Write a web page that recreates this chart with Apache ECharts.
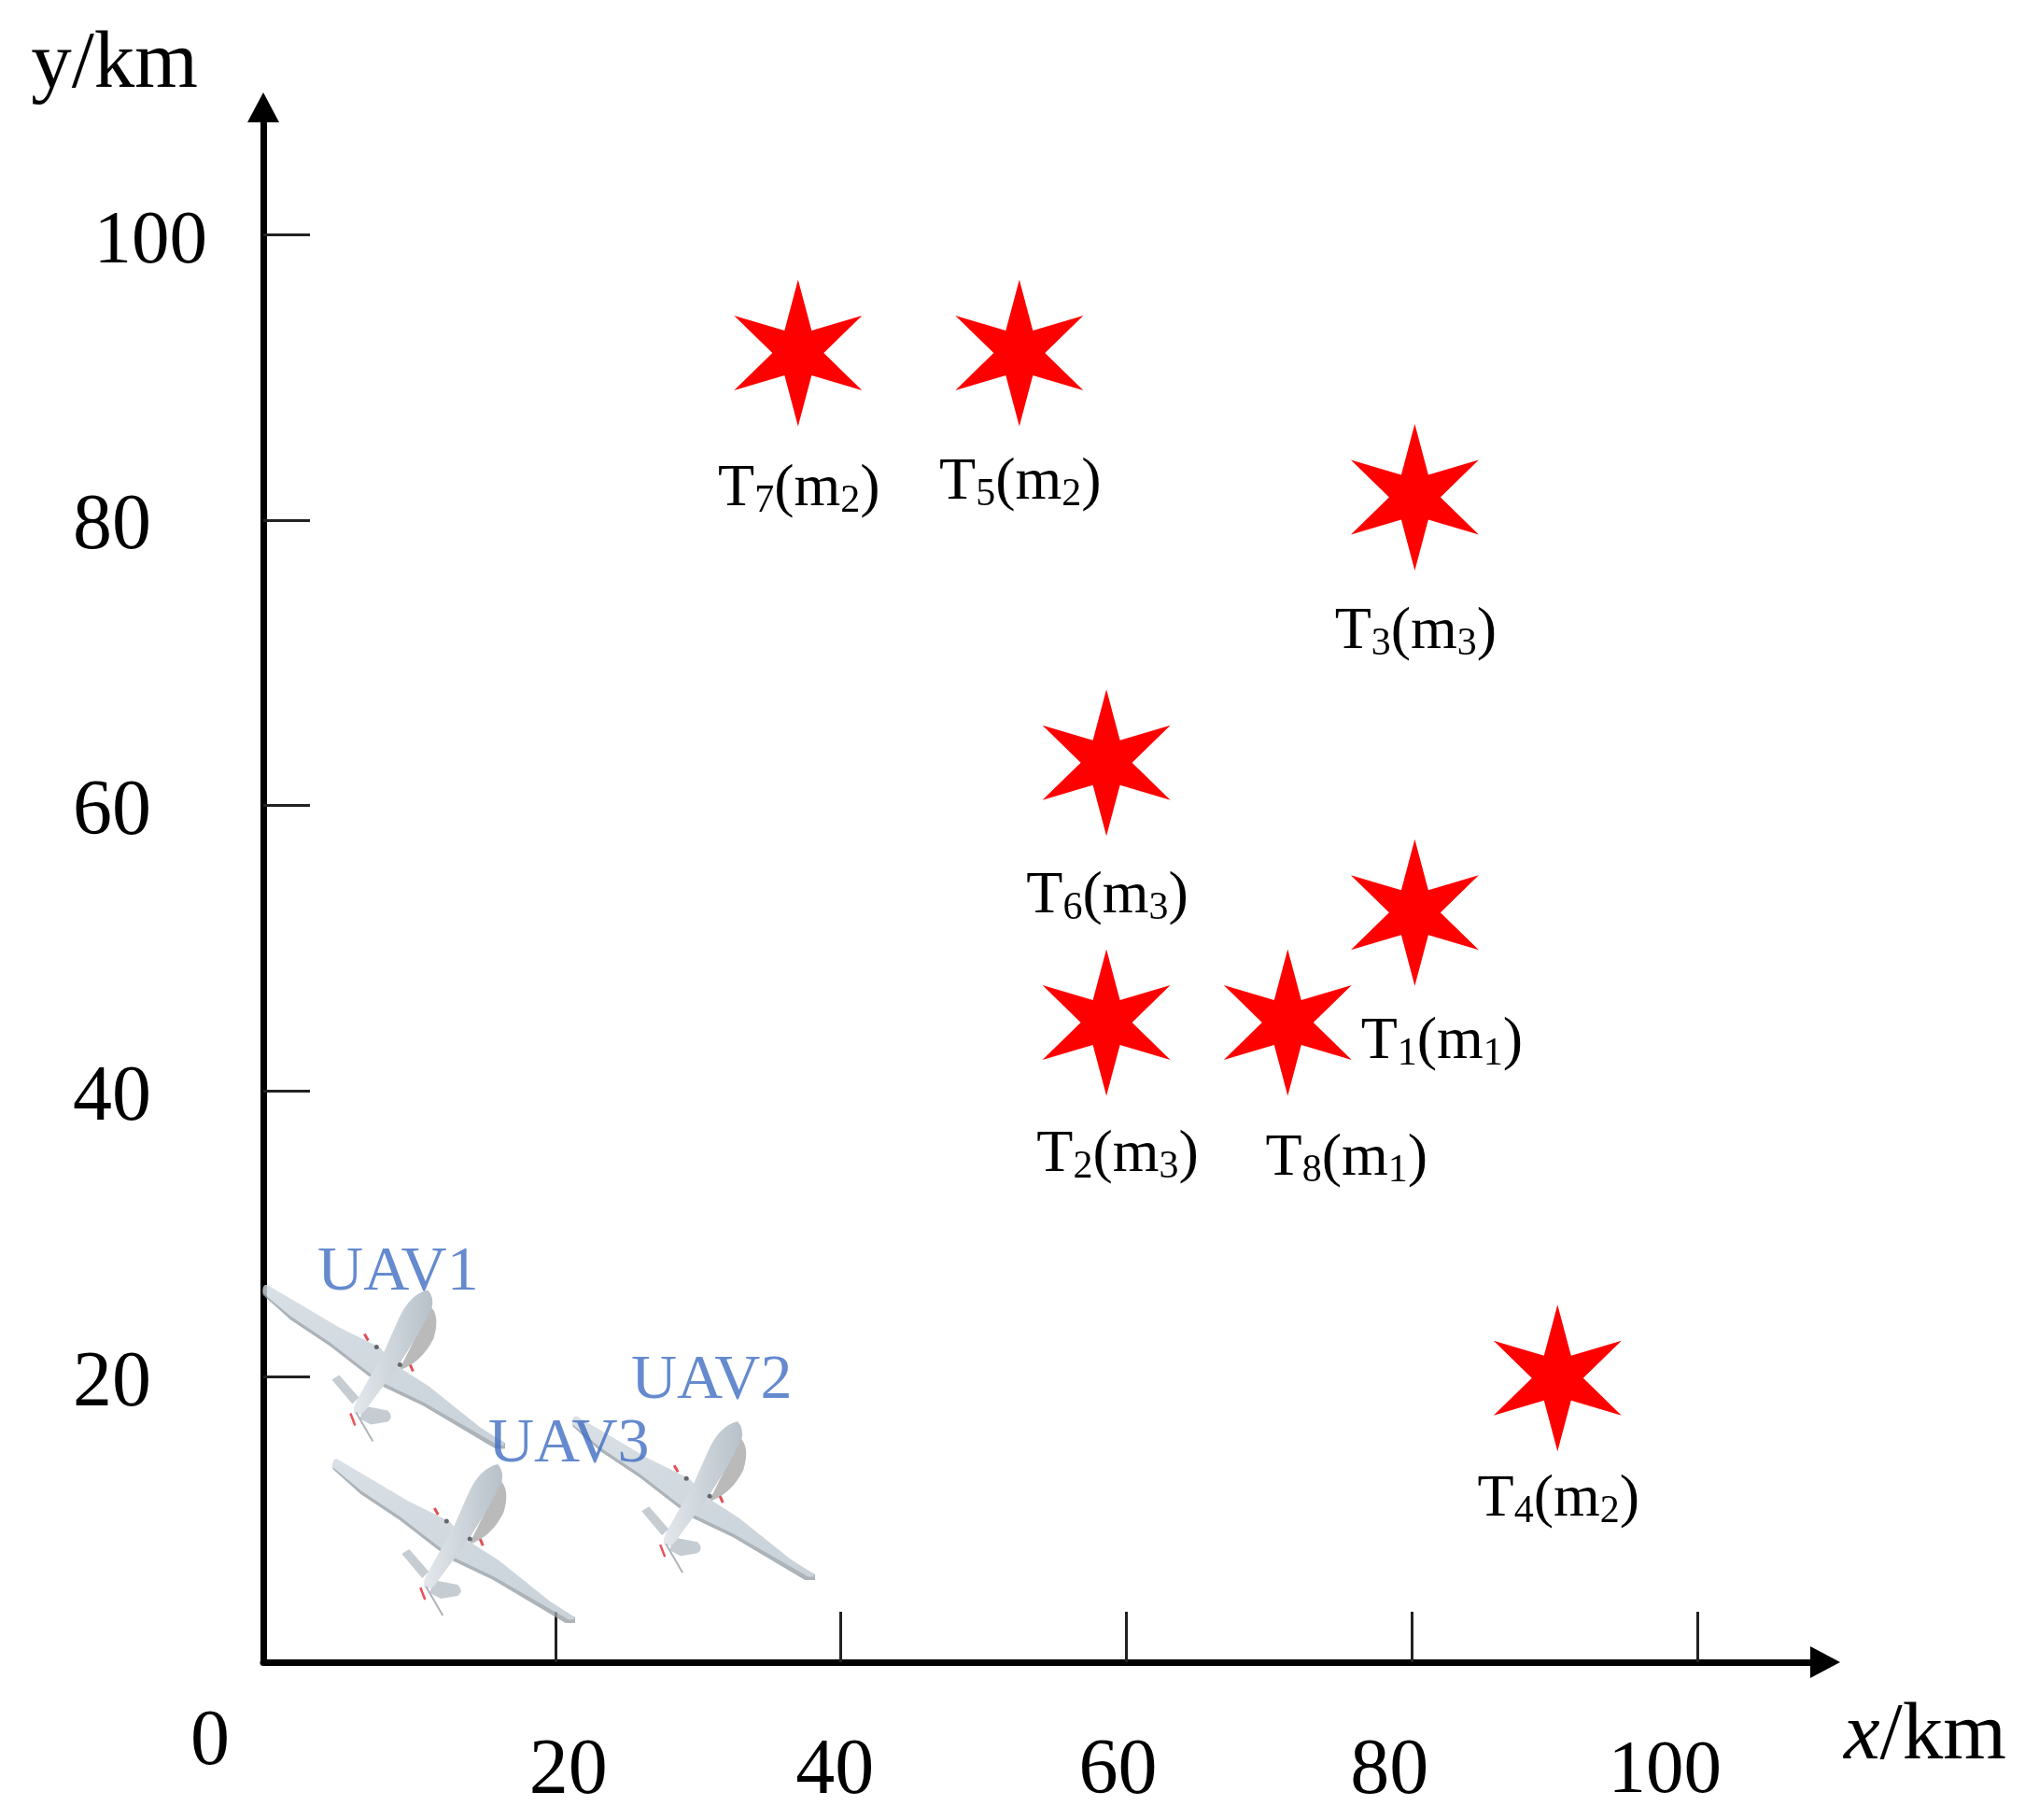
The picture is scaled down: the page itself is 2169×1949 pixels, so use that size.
<!DOCTYPE html>
<html>
<head>
<meta charset="utf-8">
<style>
  html, body { margin: 0; padding: 0; background: #fff; }
  #chart_container { width: 2169px; height: 1949px; }
</style>
<script src="https://cdn.jsdelivr.net/npm/echarts@6/dist/echarts.min.js"></script>
</head>
<body>
<div id="chart_container"></div>
<script>
// tick labels
const xLabelValues = [0, 20, 40, 60, 80, 100]
const xTickValues = [20, 40, 60, 80, 100]
const yTickValues = [20, 40, 60, 80, 100]

// targets (km)
const targetNames = ["T7", "T5", "T3", "T6", "T1", "T2", "T8", "T4"]
const targetSub = ["7", "5", "3", "6", "1", "2", "8", "4"]
const targetMode = ["2", "2", "3", "3", "1", "3", "1", "2"]
const targetX = [37.0, 52.5, 80.2, 58.6, 80.2, 58.6, 71.3, 90.2]
const targetY = [91.7, 91.7, 81.6, 63.0, 52.5, 44.8, 44.8, 19.9]

// uavs
const uavNames = ["UAV1", "UAV2", "UAV3"]
const uavX = [8.0, 29.7, 12.9]
const uavY = [20.7, 11.5, 8.5]

const SERIF = '"Liberation Serif", "Times New Roman", serif'

// where each label sits relative to its mark, in px
const targetLabelOffset = [[1, 146], [1, 139], [1, 145], [1, 143], [29, 139], [12, 142], [63, 146], [1, 130]]
const uavLabelOffset = [[15, -100], [19, -125], [123, -103]]

// six pointed star
const starPath = "path://M68.5 0L83 54.5L137 38.5L96 78.5L137 118.5L83 102.5L68.5 157L54 102.5L0 118.5L41 78.5L0 38.5L54 54.5Z"

// top view of the plane, drawn once and used as the scatter symbol
const planeSvg = `<svg xmlns="http://www.w3.org/2000/svg" width="260" height="176" viewBox="0 0 260 176">
<defs>
<linearGradient id="w" x1="0" y1="0" x2="1" y2="1"><stop offset="0" stop-color="#d0d9e0"/><stop offset="1" stop-color="#bcc7d0"/></linearGradient>
<linearGradient id="f" x1="0" y1="0" x2="1" y2="0"><stop offset="0" stop-color="#dde3e8"/><stop offset="1" stop-color="#a6b2bc"/></linearGradient>
</defs>
<path d="M178 22Q191 32 183 58Q170 84 146 92L166 52Z" fill="#a9a9a9"/>
<path d="M108 130L134 135Q141 142 134 147L116 150L104 144Z" fill="#b9c1c8"/>
<path d="M0 11Q-1 2 4 1L33 19L82 48L125 69L142 88L178 111L233 155L260 170L260 176Q252 178 246 174L172 130L130 110L112 97L72 66L30 38Z" fill="#98a1a8"/>
<path d="M0 9Q-1 1 4 0L33 17L82 46L125 67L142 86L178 109L233 153L258 169Q261 174 252 172L172 126L130 106L112 93L72 62L30 34Z" fill="url(#w)"/>
<path d="M177 6Q184 14 181 26L166 54L146 86L112 132Q106 142 98 138Q96 132 102 122L130 72L146 36Q158 10 177 6Z" fill="url(#f)"/>
<path d="M74 102L82 97L103 121L96 128Z" fill="#b7c1c9"/>
<path d="M100 137L118 168" stroke="#9aa2a8" stroke-width="2" fill="none"/>
<path d="M94 138L99 151" stroke="#e8262c" stroke-width="2.5" fill="none"/>
<path d="M109 53L113 60" stroke="#d8262c" stroke-width="3" fill="none"/>
<path d="M158 86L161 93" stroke="#d8262c" stroke-width="3" fill="none"/>
<circle cx="122" cy="67" r="2.5" fill="#3d4347"/><circle cx="147" cy="86" r="2.5" fill="#3d4347"/>
</svg>`
const planeSymbol = "image://data:image/svg+xml;charset=utf-8," + encodeURIComponent(planeSvg)

function build_target_data(){
    return targetNames.map((name, i) => ({
        name: name,
        value: [targetX[i], targetY[i]],
        label: {
            offset: targetLabelOffset[i],
            formatter: `{t|T}{s|${targetSub[i]}}{t|(m}{s|${targetMode[i]}}{t|)}`
        }
    }))
}

function build_uav_data(){
    return uavNames.map((name, i) => ({
        name: name,
        value: [uavX[i], uavY[i]],
        label: { offset: uavLabelOffset[i], formatter: name }
    }))
}

const chart = echarts.init(document.getElementById('chart_container'))

const tickFont = { fontFamily: SERIF, fontSize: 84, color: "#000", lineHeight: 84 }
const bigTickFont = { fontFamily: SERIF, fontSize: 81, color: "#000", lineHeight: 84 }

const option = {
    backgroundColor: "#fff",
    animation: false,
    grid: { left: 282, top: 115, width: 1673, height: 1665, containLabel: false },
    xAxis: {
        type: "value",
        min: -0.46,
        max: 108.95,
        name: "{i|x}{n|/km}",
        nameLocation: "end",
        nameGap: 20,
        nameTextStyle: {
            align: "left",
            verticalAlign: "top",
            padding: [37, 0, 0, 0],
            rich: {
                i: { fontFamily: SERIF, fontSize: 87, fontStyle: "italic", color: "#000" },
                n: { fontFamily: SERIF, fontSize: 87, color: "#000" }
            }
        },
        axisLine: {
            onZero: false,
            symbol: ["none", "triangle"],
            symbolSize: [34, 32],
            lineStyle: { color: "#000", width: 7 }
        },
        axisTick: { show: true, inside: true, length: 54, customValues: xTickValues, lineStyle: { color: "#222", width: 3 } },
        axisLabel: {
            customValues: xLabelValues,
            margin: 0,
            verticalAlign: "top",
            formatter: v => `{x${v}|${v}}`,
            rich: {
                x0: { ...tickFont, padding: [90, 128, 0, 0] },
                x20: { ...tickFont, padding: [152, 0, 0, 28] },
                x40: { ...tickFont, padding: [152, 13, 0, 0] },
                x60: { ...tickFont, padding: [152, 18, 0, 0] },
                x80: { ...tickFont, padding: [152, 48, 0, 0] },
                x100: { ...bigTickFont, padding: [152, 70, 0, 0] }
            }
        },
        splitLine: { show: false }
    },
    yAxis: {
        type: "value",
        min: 0,
        max: 108.9,
        name: "y/km",
        nameLocation: "end",
        nameGap: 1,
        nameTextStyle: { fontFamily: SERIF, fontSize: 87, color: "#000", align: "right", padding: [0, 70, 0, 0] },
        axisLine: {
            onZero: false,
            symbol: ["none", "triangle"],
            symbolSize: [34, 32],
            lineStyle: { color: "#000", width: 7 }
        },
        axisTick: { show: true, inside: true, length: 50, customValues: yTickValues, lineStyle: { color: "#222", width: 3 } },
        axisLabel: {
            customValues: yTickValues,
            margin: 60,
            align: "right",
            formatter: v => v === 100 ? `{big|${v}}` : `{y|${v}}`,
            rich: {
                big: { ...bigTickFont, padding: [17, 0, 0, 0] },
                y: { ...tickFont, padding: [17, 60, 0, 0] }
            }
        },
        splitLine: { show: false }
    },
    series: [
        {
            name: "UAV",
            type: "scatter",
            silent: true,
            clip: false,
            symbol: planeSymbol,
            symbolSize: [260, 176],
            label: {
                show: true,
                position: "inside",
                fontFamily: SERIF,
                fontSize: 68,
                color: "#3F6DC2"
            },
            data: build_uav_data()
        },
        {
            name: "Targets",
            type: "scatter",
            silent: true,
            clip: false,
            symbol: starPath,
            symbolSize: [137, 157],
            itemStyle: { color: "#FF0000", opacity: 1 },
            label: {
                show: true,
                position: "inside",
                rich: {
                    t: { fontFamily: SERIF, fontSize: 64, color: "#000" },
                    s: { fontFamily: SERIF, fontSize: 42, color: "#000", padding: [26, 0, 0, 0] }
                }
            },
            data: build_target_data()
        }
    ]
}

chart.setOption(option)
</script>
</body>
</html>
